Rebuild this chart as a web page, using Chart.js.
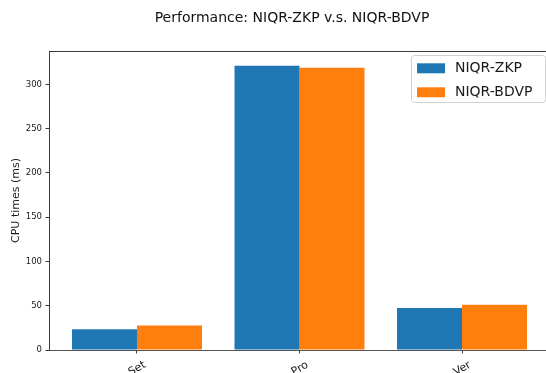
<!DOCTYPE html>
<html>
<head>
<meta charset="utf-8">
<script src="https://cdn.jsdelivr.net/npm/chart.js@4/dist/chart.umd.min.js"></script>
<style>
  html, body { margin: 0; padding: 0; background: #fff; overflow: hidden; }
  #wrap { width: 550px; height: 373px; position: relative; }
</style>
</head>
<body>
<div id="wrap"><canvas id="c" width="550" height="373"></canvas></div>
<script>
const categories = ['Set', 'Pro', 'Ver'];
const zkpValues = [23.3, 321.0, 47.3];
const bdvpValues = [27.8, 318.7, 51.0];
const yTickValues = [0, 50, 100, 150, 200, 250, 300];
const seriesNames = ['NIQR-ZKP', 'NIQR-BDVP'];

Chart.defaults.font.family = "'DejaVu Sans', sans-serif";

const spineColor = '#3a3a3a';

const frameAndLegend = {
  id: 'frameAndLegend',
  afterLayout(chart) {
    if (chart.titleBlock) { chart.titleBlock.left = 34; }
  },
  afterDatasetsDraw(chart) {
    const ctx = chart.ctx;
    const a = chart.chartArea;
    ctx.save();
    ctx.strokeStyle = spineColor;
    ctx.lineWidth = 1;
    ctx.beginPath();
    ctx.moveTo(a.left, a.top + 0.5);
    ctx.lineTo(a.right, a.top + 0.5);
    ctx.stroke();
    ctx.beginPath();
    ctx.moveTo(a.right - 0.5, a.top);
    ctx.lineTo(a.right - 0.5, a.bottom);
    ctx.stroke();
    // legend
    const bx = 411.5, by = 55.5, bw = 134, bh = 47, r = 3;
    ctx.beginPath();
    ctx.moveTo(bx + r, by);
    ctx.lineTo(bx + bw - r, by);
    ctx.arcTo(bx + bw, by, bx + bw, by + r, r);
    ctx.lineTo(bx + bw, by + bh - r);
    ctx.arcTo(bx + bw, by + bh, bx + bw - r, by + bh, r);
    ctx.lineTo(bx + r, by + bh);
    ctx.arcTo(bx, by + bh, bx, by + bh - r, r);
    ctx.lineTo(bx, by + r);
    ctx.arcTo(bx, by, bx + r, by, r);
    ctx.closePath();
    ctx.fillStyle = 'rgba(255,255,255,0.8)';
    ctx.fill();
    ctx.strokeStyle = '#d0d0d0';
    ctx.stroke();
    ctx.font = "14px 'DejaVu Sans', sans-serif";
    ctx.textBaseline = 'middle';
    ctx.textAlign = 'left';
    chart.data.datasets.forEach((ds, i) => {
      const y = 63.3 + i * 24;
      ctx.fillStyle = ds.backgroundColor;
      ctx.fillRect(417, y, 28, 10);
      ctx.fillStyle = '#1a1a1a';
      ctx.fillText(ds.label, 455, y + 5.5);
    });
    ctx.restore();
  }
};

new Chart(document.getElementById('c'), {
  type: 'bar',
  data: {
    datasets: [
      { label: seriesNames[0], data: zkpValues.map((v, i) => ({ x: i, y: v })), backgroundColor: '#1f77b4' },
      { label: seriesNames[1], data: bdvpValues.map((v, i) => ({ x: i, y: v })), backgroundColor: '#ff7f0e' }
    ]
  },
  options: {
    responsive: false,
    animation: false,
    layout: { padding: { left: 0, right: 0, top: 0, bottom: 0 } },
    datasets: { bar: { categoryPercentage: 0.8, barPercentage: 1.0, borderWidth: 0 } },
    plugins: {
      legend: { display: false },
      tooltip: { enabled: false },
      title: {
        display: true,
        text: 'Performance: NIQR-ZKP v.s. NIQR-BDVP',
        color: '#111',
        font: { size: 14, weight: 'normal' },
        padding: { top: 10, bottom: 24.2 }
      }
    },
    scales: {
      x: {
        type: 'linear',
        offset: false,
        min: -0.5415,
        max: 2.5415,
        afterBuildTicks(scale) { scale.ticks = categories.map((c, i) => ({ value: i })); },
        afterFit(scale) { scale.height = 23; },
        grid: { offset: false, drawOnChartArea: false, drawTicks: true, tickLength: 3.5, tickColor: spineColor, tickWidth: 1 },
        border: { display: true, color: '#555', width: 1 },
        ticks: {
          callback: (v) => categories[v] !== undefined ? categories[v] : '',
          minRotation: 30, maxRotation: 30,
          labelOffset: 8,
          padding: 5,
          color: '#1a1a1a',
          font: { size: 11 }
        }
      },
      y: {
        min: 0,
        max: 337.6,
        afterBuildTicks(scale) { scale.ticks = yTickValues.map(v => ({ value: v })); },
        afterFit(scale) { scale.width = 49; },
        grid: { drawOnChartArea: false, drawTicks: true, tickLength: 3.5, tickColor: spineColor, tickWidth: 1 },
        border: { display: true, color: spineColor, width: 1 },
        ticks: { padding: 3.5, color: '#1a1a1a', font: { size: 8.5 } },
        title: {
          display: true,
          text: 'CPU times (ms)',
          color: '#1a1a1a',
          font: { size: 11 },
          padding: { top: 9.4, bottom: 0 }
        }
      }
    }
  },
  plugins: [frameAndLegend]
});
</script>
</body>
</html>
